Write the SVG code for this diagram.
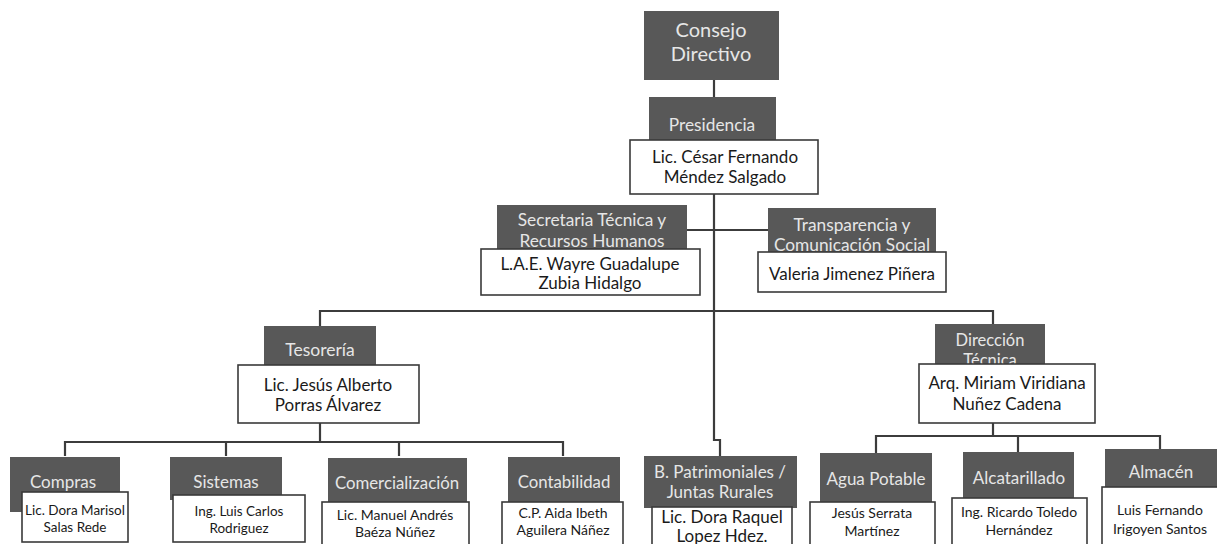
<svg xmlns="http://www.w3.org/2000/svg" width="1217" height="544" viewBox="0 0 1217 544">
<style>
.g{fill:#585858;}
.w{fill:#ffffff;stroke:#3a3a3a;stroke-width:1.6;}
.gt{font-family:Lato,"Open Sans",sans-serif;fill:#e6e6e6;text-anchor:middle;}
.wt{font-family:Lato,"Open Sans",sans-serif;fill:#1a1a1a;text-anchor:middle;}
.c{fill:none;stroke:#3c3c3c;stroke-width:2.2;}
</style>
<rect width="1217" height="544" fill="#ffffff"/>
<g id="connectors">
<path class="c" d="M714 80V97"/>
<path class="c" d="M714 194V440H720V456"/>
<path class="c" d="M687 230H768"/>
<path class="c" d="M320 326V311H993V324"/>
<path class="c" d="M320 423V442"/>
<path class="c" d="M65 456V442H563V456"/>
<path class="c" d="M226 442V456"/>
<path class="c" d="M399 442V456"/>
<path class="c" d="M993 423V436"/>
<path class="c" d="M876 453V436H1160V449"/>
<path class="c" d="M1018 436V452"/>
</g>
<g id="consejo">
<rect class="g" x="644" y="11" width="135" height="69"/>
<text class="gt" x="711" y="37" font-size="20">Consejo</text>
<text class="gt" x="711" y="61" font-size="20">Directivo</text>
</g>
<g id="presidencia">
<rect class="g" x="649" y="97" width="127" height="44"/>
<text class="gt" x="712" y="131" font-size="17.3">Presidencia</text>
<rect class="w" x="630" y="140" width="188" height="54"/>
<text class="wt" x="725" y="163" font-size="17">Lic. César Fernando</text>
<text class="wt" x="725" y="183" font-size="17">Méndez Salgado</text>
</g>
<g id="secretaria">
<rect class="g" x="497" y="205" width="190" height="45"/>
<text class="gt" x="592" y="226" font-size="17.3">Secretaria Técnica y</text>
<text class="gt" x="592" y="247" font-size="17.3">Recursos Humanos</text>
<rect class="w" x="481" y="249" width="219" height="46"/>
<text class="wt" x="590" y="270" font-size="17">L.A.E. Wayre Guadalupe</text>
<text class="wt" x="590" y="289" font-size="17">Zubia Hidalgo</text>
</g>
<g id="transparencia">
<rect class="g" x="768" y="208" width="168" height="45"/>
<text class="gt" x="852" y="231" font-size="17.3">Transparencia y</text>
<text class="gt" x="852" y="251" font-size="17.3">Comunicación Social</text>
<rect class="w" x="758" y="252" width="188" height="40"/>
<text class="wt" x="852" y="280" font-size="17">Valeria Jimenez Piñera</text>
</g>
<g id="tesoreria">
<rect class="g" x="264" y="326" width="112" height="40"/>
<text class="gt" x="320" y="356" font-size="17.5">Tesorería</text>
<rect class="w" x="238" y="365" width="181" height="58"/>
<text class="wt" x="328" y="391" font-size="17">Lic. Jesús Alberto</text>
<text class="wt" x="328" y="411" font-size="17">Porras Álvarez</text>
</g>
<g id="direccion">
<rect class="g" x="935" y="324" width="110" height="42"/>
<text class="gt" x="990" y="346" font-size="16.5">Dirección</text>
<text class="gt" x="990" y="366" font-size="16.5">Técnica</text>
<rect class="w" x="919" y="364" width="176" height="59"/>
<text class="wt" x="1007" y="389" font-size="17">Arq. Miriam Viridiana</text>
<text class="wt" x="1007" y="410" font-size="17">Nuñez Cadena</text>
</g>
<g id="compras">
<rect class="g" x="10" y="457" width="110" height="55"/>
<text class="gt" x="63" y="488" font-size="17">Compras</text>
<rect class="w" x="22" y="492" width="106" height="50"/>
<text class="wt" x="75" y="515" font-size="13.5">Lic. Dora Marisol</text>
<text class="wt" x="75" y="532" font-size="13.5">Salas Rede</text>
</g>
<g id="sistemas">
<rect class="g" x="170" y="457" width="112" height="43"/>
<text class="gt" x="226" y="488" font-size="17">Sistemas</text>
<rect class="w" x="173" y="495" width="132" height="47"/>
<text class="wt" x="239" y="516" font-size="13.5">Ing. Luis Carlos</text>
<text class="wt" x="239" y="533" font-size="13.5">Rodriguez</text>
</g>
<g id="comercializacion">
<rect class="g" x="328" y="458" width="139" height="45"/>
<text class="gt" x="397" y="489" font-size="16.8">Comercialización</text>
<rect class="w" x="322" y="502" width="147" height="44"/>
<text class="wt" x="395" y="520" font-size="14">Lic. Manuel Andrés</text>
<text class="wt" x="395" y="537" font-size="14">Baéza Núñez</text>
</g>
<g id="contabilidad">
<rect class="g" x="508" y="457" width="112" height="46"/>
<text class="gt" x="564" y="488" font-size="16.8">Contabilidad</text>
<rect class="w" x="502" y="502" width="121" height="44"/>
<text class="wt" x="563" y="518" font-size="14">C.P. Aida Ibeth</text>
<text class="wt" x="563" y="535" font-size="14">Aguilera Náñez</text>
</g>
<g id="patrimoniales">
<rect class="g" x="644" y="456" width="153" height="52"/>
<text class="gt" x="720" y="478" font-size="17">B. Patrimoniales /</text>
<text class="gt" x="720" y="498" font-size="17">Juntas Rurales</text>
<rect class="w" x="652" y="507" width="140" height="40"/>
<text class="wt" x="722" y="523" font-size="17">Lic. Dora Raquel</text>
<text class="wt" x="722" y="542" font-size="17">Lopez Hdez.</text>
</g>
<g id="agua">
<rect class="g" x="820" y="453" width="112" height="52"/>
<text class="gt" x="876" y="485" font-size="17">Agua Potable</text>
<rect class="w" x="810" y="502" width="125" height="44"/>
<text class="wt" x="872" y="518" font-size="14">Jesús Serrata</text>
<text class="wt" x="872" y="536" font-size="14">Martínez</text>
</g>
<g id="alcantarillado">
<rect class="g" x="963" y="452" width="111" height="48"/>
<text class="gt" x="1019" y="484" font-size="17">Alcatarillado</text>
<rect class="w" x="952" y="498" width="135" height="48"/>
<text class="wt" x="1019" y="517" font-size="14">Ing. Ricardo Toledo</text>
<text class="wt" x="1019" y="535" font-size="14">Hernández</text>
</g>
<g id="almacen">
<rect class="g" x="1105" y="449" width="112" height="40"/>
<text class="gt" x="1161" y="478" font-size="17">Almacén</text>
<rect class="w" x="1102" y="487" width="116" height="59"/>
<text class="wt" x="1160" y="515" font-size="14">Luis Fernando</text>
<text class="wt" x="1160" y="534" font-size="14">Irigoyen Santos</text>
</g>
</svg>
